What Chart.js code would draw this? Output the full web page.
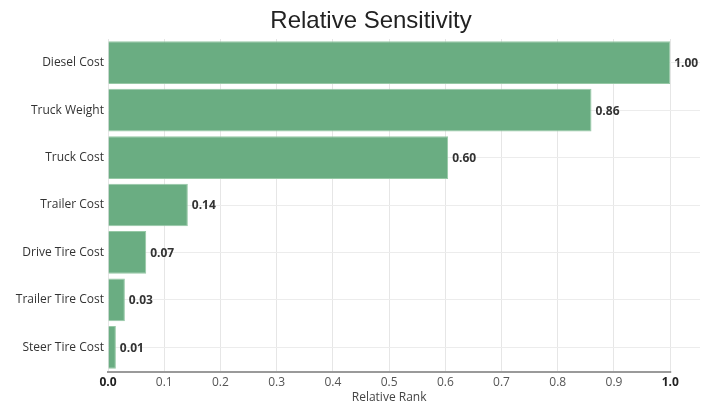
<!DOCTYPE html>
<html lang="en">
<head>
    <meta charset="UTF-8">
    <title>Relative Sensitivity</title>
    <style>
        html, body { margin: 0; padding: 0; background: #fff; }
        .chart-container { position: relative; width: 710px; height: 404px; }
    </style>
</head>
<body>
    <div class="chart-container">
        <canvas id="sensitivityChart"></canvas>
    </div>
    <script src="https://cdn.jsdelivr.net/npm/chart.js"></script>
    <script>
        var categories = ['Diesel Cost', 'Truck Weight', 'Truck Cost', 'Trailer Cost', 'Drive Tire Cost', 'Trailer Tire Cost', 'Steer Tire Cost'];
        var rankValues = [1.00, 0.86, 0.605, 0.142, 0.068, 0.030, 0.014];
        var rankLabels = ['1.00', '0.86', '0.60', '0.14', '0.07', '0.03', '0.01'];
        var xTicks = [0, 0.1, 0.2, 0.3, 0.4, 0.5, 0.6, 0.7, 0.8, 0.9, 1.0];

        var font = "'Open Sans', sans-serif";

        // title, axis title, bottom axis line and bar value labels
        var extras = {
            id: 'extras',
            afterDraw: function(chart) {
                var ctx = chart.ctx;
                var x = chart.scales.x;
                var area = chart.chartArea;
                var x0 = x.getPixelForValue(0);
                var x1 = x.getPixelForValue(1);
                ctx.save();

                ctx.strokeStyle = '#9a9a9a';
                ctx.lineWidth = 2;
                ctx.beginPath();
                ctx.moveTo(x0 - 1, area.bottom + 1);
                ctx.lineTo(x1 + 1, area.bottom + 1);
                ctx.stroke();

                ctx.fillStyle = '#222';
                ctx.font = "24px 'Liberation Sans', Arial, sans-serif";
                ctx.textAlign = 'center';
                ctx.textBaseline = 'alphabetic';
                ctx.fillText('Relative Sensitivity', 371, 28);

                ctx.fillStyle = '#444';
                ctx.font = '12px ' + font;
                ctx.fillText('Relative Rank', (x0 + x1) / 2, 401);

                ctx.fillStyle = '#333';
                ctx.font = 'bold 12px ' + font;
                ctx.textAlign = 'left';
                ctx.textBaseline = 'middle';
                chart.getDatasetMeta(0).data.forEach(function(bar, i) {
                    ctx.fillText(rankLabels[i], bar.x + 4, bar.y + 1);
                });
                ctx.restore();
            }
        };

        new Chart(document.getElementById('sensitivityChart').getContext('2d'), {
            type: 'bar',
            data: {
                labels: categories,
                datasets: [{
                    data: rankValues,
                    backgroundColor: 'rgba(106, 173, 130, 1)',
                    borderColor: 'rgba(150, 200, 165, 1)',
                    borderWidth: 1,
                    barPercentage: 1,
                    categoryPercentage: 0.9
                }]
            },
            options: {
                indexAxis: 'y',
                responsive: true,
                maintainAspectRatio: false,
                animation: false,
                layout: { padding: { top: 39, right: 10, bottom: 0, left: 0 } },
                plugins: {
                    legend: { display: false },
                    tooltip: { enabled: false },
                    title: { display: false }
                },
                scales: {
                    x: {
                        type: 'linear',
                        min: 0,
                        max: 1.053,
                        afterBuildTicks: function(scale) {
                            scale.ticks = xTicks.map(function(v) { return { value: v }; });
                        },
                        border: { display: false },
                        grid: { color: '#e6e6e6', lineWidth: 1, drawTicks: false },
                        ticks: {
                            padding: 4,
                            maxRotation: 0,
                            color: function(c) {
                                return (c.tick.value === 0 || c.tick.value === 1) ? '#222' : '#555';
                            },
                            font: function(c) {
                                var b = c.tick && (c.tick.value === 0 || c.tick.value === 1);
                                return { family: font, size: 12, weight: b ? 'bold' : 'normal' };
                            },
                            callback: function(v) { return Number(v).toFixed(1); }
                        },
                        afterFit: function(scale) { scale.height = 33; }
                    },
                    y: {
                        border: { display: false },
                        grid: { color: '#ececec', lineWidth: 1, drawTicks: false, offset: false },
                        ticks: {
                            padding: 4,
                            color: '#333',
                            font: { family: font, size: 12 }
                        },
                        afterFit: function(scale) { scale.width = 108; }
                    }
                }
            },
            plugins: [extras]
        });
    </script>
</body>
</html>
